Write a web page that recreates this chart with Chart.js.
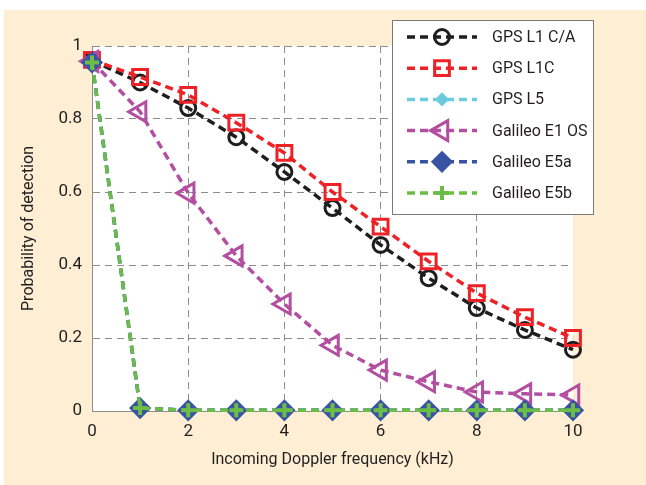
<!DOCTYPE html>
<html>
<head>
<meta charset="utf-8">
<script src="https://cdn.jsdelivr.net/npm/chart.js@4/dist/chart.umd.min.js"></script>
<style>
  html, body { margin: 0; padding: 0; background: #fff; }
  #wrap { width: 646px; height: 485px; }
</style>
</head>
<body>
<div id="wrap"><canvas id="myChart" width="646" height="485"></canvas></div>
<script>
// data
var freq = [0, 1, 2, 3, 4, 5, 6, 7, 8, 9, 10];
var xTicks = [0, 2, 4, 6, 8, 10];
var yTicks = [0, 0.2, 0.4, 0.6, 0.8, 1];
var gpsL1CA = [0.96, 0.90, 0.83, 0.75, 0.655, 0.556, 0.455, 0.364, 0.282, 0.222, 0.168];
var gpsL1C = [0.962, 0.915, 0.866, 0.79, 0.707, 0.60, 0.505, 0.41, 0.323, 0.257, 0.20];
var gpsL5 = [0.955, 0.008, 0.002, 0.002, 0.002, 0.002, 0.002, 0.002, 0.002, 0.002, 0.002];
var galE1OS = [0.958, 0.82, 0.597, 0.425, 0.293, 0.18, 0.112, 0.08, 0.052, 0.047, 0.044];
var galE5a = [0.955, 0.008, 0.002, 0.002, 0.002, 0.002, 0.002, 0.002, 0.002, 0.002, 0.002];
var galE5b = [0.955, 0.008, 0.002, 0.002, 0.002, 0.002, 0.002, 0.002, 0.002, 0.002, 0.002];

var FONT = "Roboto, Lato, sans-serif";
var TEXT = '#231f20';

function pts(vals) {
    return vals.map(function(v, i) { return {x: freq[i], y: v}; });
}

function series(label, vals, color, style, radius, fill, order, extra) {
    var ds = {
        label: label,
        data: pts(vals),
        borderColor: color,
        backgroundColor: color,
        borderWidth: 3.5,
        borderDash: [8, 5],
        tension: 0,
        pointStyle: style,
        pointRadius: radius,
        pointHoverRadius: radius,
        pointBorderColor: color,
        pointBackgroundColor: fill,
        pointBorderWidth: 3,
        clip: false,
        order: order
    };
    for (var k in extra) ds[k] = extra[k];
    return ds;
}

// background: white frame, peach panel, white plot area
var bgPlugin = {
    id: 'bg',
    beforeDraw: function(chart) {
        var c = chart.ctx, a = chart.chartArea;
        c.save();
        c.fillStyle = '#ffffff';
        c.fillRect(0, 0, chart.width, chart.height);
        c.fillStyle = '#fdeed4';
        c.fillRect(4, 10, chart.width - 4, chart.height - 10);
        c.fillStyle = '#ffffff';
        c.fillRect(a.left, a.top, a.right - a.left, a.bottom - a.top);
        c.restore();
    }
};

function marker(c, ds, x, y) {
    var r = ds.pointRadius;
    c.save();
    c.lineWidth = ds.pointBorderWidth;
    c.strokeStyle = ds.pointBorderColor;
    c.fillStyle = ds.pointBackgroundColor;
    c.setLineDash([]);
    c.beginPath();
    if (ds.pointStyle === 'circle') {
        c.arc(x, y, r, 0, Math.PI * 2);
    } else if (ds.pointStyle === 'rect') {
        c.rect(x - r * 0.7, y - r * 0.7, r * 1.4, r * 1.4);
    } else if (ds.pointStyle === 'triangle') {
        c.moveTo(x - r, y);
        c.lineTo(x + r * 0.5, y - r * 0.87);
        c.lineTo(x + r * 0.5, y + r * 0.87);
        c.closePath();
    } else if (ds.pointStyle === 'rectRot') {
        c.moveTo(x, y - r); c.lineTo(x + r, y); c.lineTo(x, y + r); c.lineTo(x - r, y);
        c.closePath();
    } else if (ds.pointStyle === 'cross') {
        c.moveTo(x - r, y); c.lineTo(x + r, y);
        c.moveTo(x, y - r); c.lineTo(x, y + r);
    }
    c.fill();
    c.stroke();
    c.restore();
}

// matlab style legend box inside the plot
var legendPlugin = {
    id: 'boxLegend',
    afterDraw: function(chart) {
        var c = chart.ctx;
        var bx = 392, by = 20, bw = 201, bh = 194;
        c.save();
        c.fillStyle = '#ffffff';
        c.fillRect(bx, by, bw, bh);
        c.strokeStyle = '#7a7a7a';
        c.lineWidth = 1;
        c.strokeRect(bx + 0.5, by + 0.5, bw, bh);
        chart.data.datasets.forEach(function(ds, i) {
            var y = 37 + i * 31.2;
            c.strokeStyle = ds.borderColor;
            c.lineWidth = 3.5;
            c.setLineDash([8, 5]);
            c.beginPath();
            c.moveTo(407, y);
            c.lineTo(477, y);
            c.stroke();
            marker(c, ds, 442, y);
            c.fillStyle = TEXT;
            c.font = '16px ' + FONT;
            c.textBaseline = 'middle';
            c.textAlign = 'left';
            c.fillText(ds.label, 492, y + 1);
        });
        c.restore();
    }
};

var ctx = document.getElementById('myChart').getContext('2d');
var myChart = new Chart(ctx, {
    type: 'line',
    data: {
        datasets: [
            series('GPS L1 C/A', gpsL1CA, '#1e1e1e', 'circle', 7.5, 'rgba(0,0,0,0)', 6),
            series('GPS L1C', gpsL1C, '#ee2226', 'rect', 10.5, 'rgba(0,0,0,0)', 5),
            series('GPS L5', gpsL5, '#6ccbde', 'rectRot', 5, '#6ccbde', 4),
            series('Galileo E1 OS', galE1OS, '#b34fa0', 'triangle', 11.5, 'rgba(0,0,0,0)', 3, {pointRotation: -90}),
            series('Galileo E5a', galE5a, '#3953a4', 'rectRot', 9, '#3953a4', 2),
            series('Galileo E5b', galE5b, '#6cbd45', 'cross', 7, '#6cbd45', 1, {pointBorderWidth: 4})
        ]
    },
    options: {
        responsive: false,
        animation: false,
        events: [],
        layout: { padding: { top: 46, right: 73, left: 0, bottom: 0 } },
        plugins: { legend: { display: false }, tooltip: { enabled: false } },
        scales: {
            x: {
                type: 'linear',
                min: 0,
                max: 10,
                afterFit: function(s) { s.height = 74; },
                afterBuildTicks: function(s) { s.ticks = xTicks.map(function(v) { return {value: v}; }); },
                ticks: { padding: 11, color: TEXT, font: { family: FONT, size: 17 },
                    callback: function(v) { return String(v); } },
                grid: {
                    drawTicks: false,
                    color: function(c) { return c.tick && c.tick.value === 10 ? 'rgba(0,0,0,0)' : '#8c8c8c'; }
                },
                border: { color: '#8c8c8c', width: 1, dash: [7, 5] },
                title: {
                    display: true,
                    text: 'Incoming Doppler frequency (kHz)',
                    color: TEXT,
                    font: { family: FONT, size: 16 },
                    padding: { top: 0, bottom: 15 }
                }
            },
            y: {
                min: 0,
                max: 1,
                afterFit: function(s) { s.width = 92; },
                afterBuildTicks: function(s) { s.ticks = yTicks.map(function(v) { return {value: v}; }); },
                ticks: { padding: 10, color: TEXT, font: { family: FONT, size: 17 },
                    callback: function(v) { return String(v); } },
                grid: { drawTicks: false, color: '#8c8c8c' },
                border: { color: '#8c8c8c', width: 1, dash: [7, 5] },
                title: {
                    display: true,
                    text: 'Probability of detection',
                    color: TEXT,
                    font: { family: FONT, size: 16 },
                    padding: { top: 19, bottom: 0 }
                }
            }
        }
    },
    plugins: [bgPlugin, legendPlugin]
});
</script>
</body>
</html>
